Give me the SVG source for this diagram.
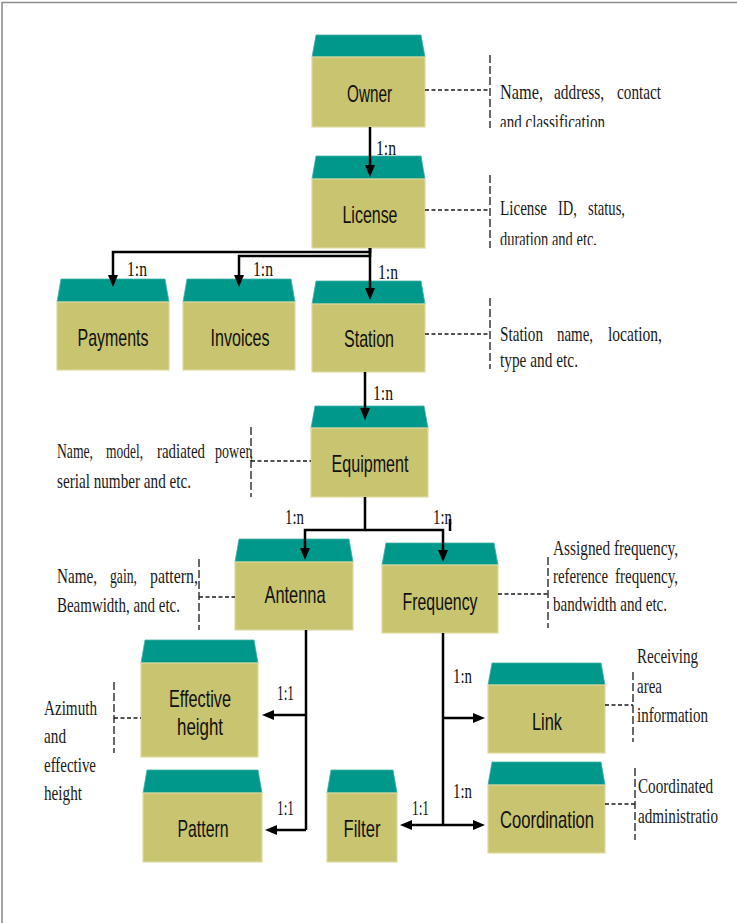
<svg xmlns="http://www.w3.org/2000/svg" width="737" height="923" viewBox="0 0 737 923">
  <style>
    .roof { fill: #00988a; stroke: #3fb0a4; stroke-width: 0.8; stroke-linejoin: round; }
    .body { fill: #c8c46f; stroke: #dedba0; stroke-width: 1.2; }
    .lbl { font-family: "Liberation Sans Narrow", "Arial Narrow", "Liberation Sans", Arial, sans-serif; font-size: 24px; fill: #111; text-anchor: middle; }
    .note { font-family: "Liberation Serif", "Times New Roman", serif; font-size: 22px; fill: #1a1a1a; }
    .card { font-family: "Liberation Serif", "Times New Roman", serif; font-size: 20px; fill: #111; }
    .link { fill: none; stroke: #000; stroke-width: 2.5; }
    .dash { fill: none; stroke: #1a1a1a; stroke-width: 1.3; stroke-dasharray: 4 2.5; }
    .brk { fill: none; stroke: #1a1a1a; stroke-width: 1.3; stroke-dasharray: 8 3; }
  </style>
  <defs>
    <marker id="head" viewBox="0 0 12 10" refX="6" refY="5" markerWidth="12" markerHeight="10" markerUnits="userSpaceOnUse" orient="auto">
      <path d="M0,0 L12,5 L0,10 Z" fill="#000"/>
    </marker>
    <clipPath id="clipOwner"><rect x="495" y="60" width="200" height="67"/></clipPath>
    <clipPath id="clipLicense"><rect x="495" y="180" width="200" height="65"/></clipPath>
  </defs>

  <!-- frame -->
  <path d="M2,923 V2.5 H737" fill="none" stroke="#8e8e8e" stroke-width="1.6"/>

  <!-- entity nodes -->
  <g id="owner">
    <path class="roof" d="M312,57 L316,35 H421 L425,57 Z"/>
    <rect class="body" x="312" y="57" width="113" height="70"/>
    <text class="lbl" x="369.5" y="102" textLength="45" lengthAdjust="spacingAndGlyphs">Owner</text>
  </g>
  <g id="license">
    <path class="roof" d="M312,179 L316,156 H421 L425,179 Z"/>
    <rect class="body" x="312" y="179" width="113" height="69"/>
    <text class="lbl" x="370" y="223" textLength="55" lengthAdjust="spacingAndGlyphs">License</text>
  </g>
  <g id="payments">
    <path class="roof" d="M57,302 L61,279 H165 L169,302 Z"/>
    <rect class="body" x="57" y="302" width="112" height="68"/>
    <text class="lbl" x="113" y="346" textLength="71" lengthAdjust="spacingAndGlyphs">Payments</text>
  </g>
  <g id="invoices">
    <path class="roof" d="M183,302 L187,279 H291 L295,302 Z"/>
    <rect class="body" x="183" y="302" width="112" height="68"/>
    <text class="lbl" x="240" y="346" textLength="59" lengthAdjust="spacingAndGlyphs">Invoices</text>
  </g>
  <g id="station">
    <path class="roof" d="M312,304 L316,281 H421 L425,304 Z"/>
    <rect class="body" x="312" y="304" width="113" height="68"/>
    <text class="lbl" x="369" y="347" textLength="50" lengthAdjust="spacingAndGlyphs">Station</text>
  </g>
  <g id="equipment">
    <path class="roof" d="M311,428 L315,406 H424 L428,428 Z"/>
    <rect class="body" x="311" y="428" width="117" height="69"/>
    <text class="lbl" x="370" y="472" textLength="77" lengthAdjust="spacingAndGlyphs">Equipment</text>
  </g>
  <g id="antenna">
    <path class="roof" d="M235,562 L239,539 H349 L353,562 Z"/>
    <rect class="body" x="235" y="562" width="118" height="68"/>
    <text class="lbl" x="295" y="603" textLength="61" lengthAdjust="spacingAndGlyphs">Antenna</text>
  </g>
  <g id="frequency">
    <path class="roof" d="M382,565 L386,543 H494 L498,565 Z"/>
    <rect class="body" x="382" y="565" width="116" height="68"/>
    <text class="lbl" x="440" y="610" textLength="75" lengthAdjust="spacingAndGlyphs">Frequency</text>
  </g>
  <g id="effective-height">
    <path class="roof" d="M141,663 L145,640 H254 L258,663 Z"/>
    <rect class="body" x="141" y="663" width="117" height="94"/>
    <text class="lbl" x="200" y="707" textLength="62" lengthAdjust="spacingAndGlyphs">Effective</text>
    <text class="lbl" x="200" y="735" textLength="46" lengthAdjust="spacingAndGlyphs">height</text>
  </g>
  <g id="pattern">
    <path class="roof" d="M143,793 L147,770 H258 L262,793 Z"/>
    <rect class="body" x="143" y="793" width="119" height="69"/>
    <text class="lbl" x="203" y="837" textLength="51" lengthAdjust="spacingAndGlyphs">Pattern</text>
  </g>
  <g id="filter">
    <path class="roof" d="M327,793 L331,770 H393 L397,793 Z"/>
    <rect class="body" x="327" y="793" width="70" height="69"/>
    <text class="lbl" x="362" y="837" textLength="37" lengthAdjust="spacingAndGlyphs">Filter</text>
  </g>
  <g id="link">
    <path class="roof" d="M488,685 L492,663 H601 L605,685 Z"/>
    <rect class="body" x="488" y="685" width="117" height="68"/>
    <text class="lbl" x="547" y="730" textLength="30" lengthAdjust="spacingAndGlyphs">Link</text>
  </g>
  <g id="coordination">
    <path class="roof" d="M488,785 L492,762 H601 L605,785 Z"/>
    <rect class="body" x="488" y="785" width="117" height="68"/>
    <text class="lbl" x="547" y="828" textLength="94" lengthAdjust="spacingAndGlyphs">Coordination</text>
  </g>

  <!-- relationship connectors -->
  <g id="connectors">
    <path class="link" d="M370,127 V171" marker-end="url(#head)"/>
    <path class="link" stroke-width="2" d="M370,248 V252 H113 V281" marker-end="url(#head)"/>
    <path class="link" d="M370,248 V256 H239 V281" marker-end="url(#head)"/>
    <path class="link" d="M370,248 V294" marker-end="url(#head)"/>
    <path class="link" d="M365,372 V414" marker-end="url(#head)"/>
    <path class="link" d="M365,497 V530 H305 V554" marker-end="url(#head)"/>
    <path class="link" d="M365,530 H443 V556" marker-end="url(#head)"/>
    <path class="link" stroke-width="1.5" d="M450,519 V531"/>
    <path class="link" d="M306,630 V830"/>
    <path class="link" d="M306,715 H268" marker-end="url(#head)"/>
    <path class="link" d="M306,830 H271" marker-end="url(#head)"/>
    <path class="link" d="M443,633 V825"/>
    <path class="link" d="M443,718 H479" marker-end="url(#head)"/>
    <path class="link" d="M443,825 H479" marker-end="url(#head)"/>
    <path class="link" d="M443,825 H406" marker-end="url(#head)"/>

    <!-- attribute leaders -->
    <path class="dash" d="M425,90 H490"/>
    <path class="brk" d="M490,55 V128"/>
    <path class="dash" d="M425,210 H490"/>
    <path class="brk" d="M490,175 V248"/>
    <path class="dash" d="M425,334 H490"/>
    <path class="brk" d="M490,298 V369"/>
    <path class="dash" d="M251,461 H311"/>
    <path class="brk" d="M251,427 V497"/>
    <path class="dash" d="M199,597 H235"/>
    <path class="brk" d="M199,559 V630"/>
    <path class="dash" d="M498,594 H548"/>
    <path class="brk" d="M548,557 V628"/>
    <path class="dash" d="M114,718 H141"/>
    <path class="brk" d="M114,682 V753"/>
    <path class="dash" d="M605,705 H633"/>
    <path class="brk" d="M633,672 V742"/>
    <path class="dash" d="M605,804 H635"/>
    <path class="brk" d="M635,768 V840"/>
  </g>

  <!-- cardinality labels -->
  <g id="cardinality" class="card">
    <text x="376" y="155" textLength="20" lengthAdjust="spacingAndGlyphs">1:n</text>
    <text x="127" y="276" textLength="20" lengthAdjust="spacingAndGlyphs">1:n</text>
    <text x="253" y="276" textLength="20" lengthAdjust="spacingAndGlyphs">1:n</text>
    <text x="378" y="279" textLength="20" lengthAdjust="spacingAndGlyphs">1:n</text>
    <text x="373" y="400" textLength="20" lengthAdjust="spacingAndGlyphs">1:n</text>
    <text x="285" y="524" textLength="19" lengthAdjust="spacingAndGlyphs">1:n</text>
    <text x="433" y="524" textLength="19" lengthAdjust="spacingAndGlyphs">1:n</text>
    <text x="277" y="700" textLength="17" lengthAdjust="spacingAndGlyphs">1:1</text>
    <text x="277" y="815" textLength="17" lengthAdjust="spacingAndGlyphs">1:1</text>
    <text x="453" y="683" textLength="19" lengthAdjust="spacingAndGlyphs">1:n</text>
    <text x="453" y="798" textLength="19" lengthAdjust="spacingAndGlyphs">1:n</text>
    <text x="412" y="815" textLength="17" lengthAdjust="spacingAndGlyphs">1:1</text>
  </g>

  <!-- attribute notes -->
  <g id="notes" class="note">
    <text x="500" y="99" textLength="43" lengthAdjust="spacingAndGlyphs">Name,</text>
    <text x="554" y="99" textLength="50" lengthAdjust="spacingAndGlyphs">address,</text>
    <text x="617" y="99" textLength="44" lengthAdjust="spacingAndGlyphs">contact</text>
    <text x="500" y="129" textLength="105" lengthAdjust="spacingAndGlyphs" clip-path="url(#clipOwner)">and classification</text>

    <text x="500" y="215" textLength="47" lengthAdjust="spacingAndGlyphs">License</text>
    <text x="558" y="215" textLength="19" lengthAdjust="spacingAndGlyphs">ID,</text>
    <text x="588" y="215" textLength="37" lengthAdjust="spacingAndGlyphs">status,</text>
    <text x="500" y="246" textLength="97" lengthAdjust="spacingAndGlyphs" clip-path="url(#clipLicense)">duration and etc.</text>

    <text x="500" y="341" textLength="43" lengthAdjust="spacingAndGlyphs">Station</text>
    <text x="557" y="341" textLength="36" lengthAdjust="spacingAndGlyphs">name,</text>
    <text x="608" y="341" textLength="54" lengthAdjust="spacingAndGlyphs">location,</text>
    <text x="500" y="367" textLength="78" lengthAdjust="spacingAndGlyphs">type and etc.</text>

    <text x="57" y="458" textLength="36" lengthAdjust="spacingAndGlyphs">Name,</text>
    <text x="106" y="458" textLength="37" lengthAdjust="spacingAndGlyphs">model,</text>
    <text x="157" y="458" textLength="48" lengthAdjust="spacingAndGlyphs">radiated</text>
    <text x="215" y="458" textLength="38" lengthAdjust="spacingAndGlyphs">power,</text>
    <text x="57" y="488" textLength="134" lengthAdjust="spacingAndGlyphs">serial number and etc.</text>

    <text x="57" y="583" textLength="40" lengthAdjust="spacingAndGlyphs">Name,</text>
    <text x="110" y="583" textLength="27" lengthAdjust="spacingAndGlyphs">gain,</text>
    <text x="150" y="583" textLength="48" lengthAdjust="spacingAndGlyphs">pattern,</text>
    <text x="57" y="612" textLength="123" lengthAdjust="spacingAndGlyphs">Beamwidth, and etc.</text>

    <text x="553" y="555" textLength="125" lengthAdjust="spacingAndGlyphs">Assigned frequency,</text>
    <text x="553" y="583" textLength="55" lengthAdjust="spacingAndGlyphs">reference</text>
    <text x="615" y="583" textLength="63" lengthAdjust="spacingAndGlyphs">frequency,</text>
    <text x="553" y="611" textLength="114" lengthAdjust="spacingAndGlyphs">bandwidth and etc.</text>

    <text x="44" y="715" textLength="53" lengthAdjust="spacingAndGlyphs">Azimuth</text>
    <text x="44" y="743" textLength="22" lengthAdjust="spacingAndGlyphs">and</text>
    <text x="44" y="772" textLength="52" lengthAdjust="spacingAndGlyphs">effective</text>
    <text x="44" y="800" textLength="38" lengthAdjust="spacingAndGlyphs">height</text>

    <text x="637" y="663" textLength="61" lengthAdjust="spacingAndGlyphs">Receiving</text>
    <text x="637" y="693" textLength="25" lengthAdjust="spacingAndGlyphs">area</text>
    <text x="637" y="722" textLength="71" lengthAdjust="spacingAndGlyphs">information</text>

    <text x="638" y="793" textLength="75" lengthAdjust="spacingAndGlyphs">Coordinated</text>
    <text x="638" y="823" textLength="80" lengthAdjust="spacingAndGlyphs">administratio</text>
  </g>
</svg>
